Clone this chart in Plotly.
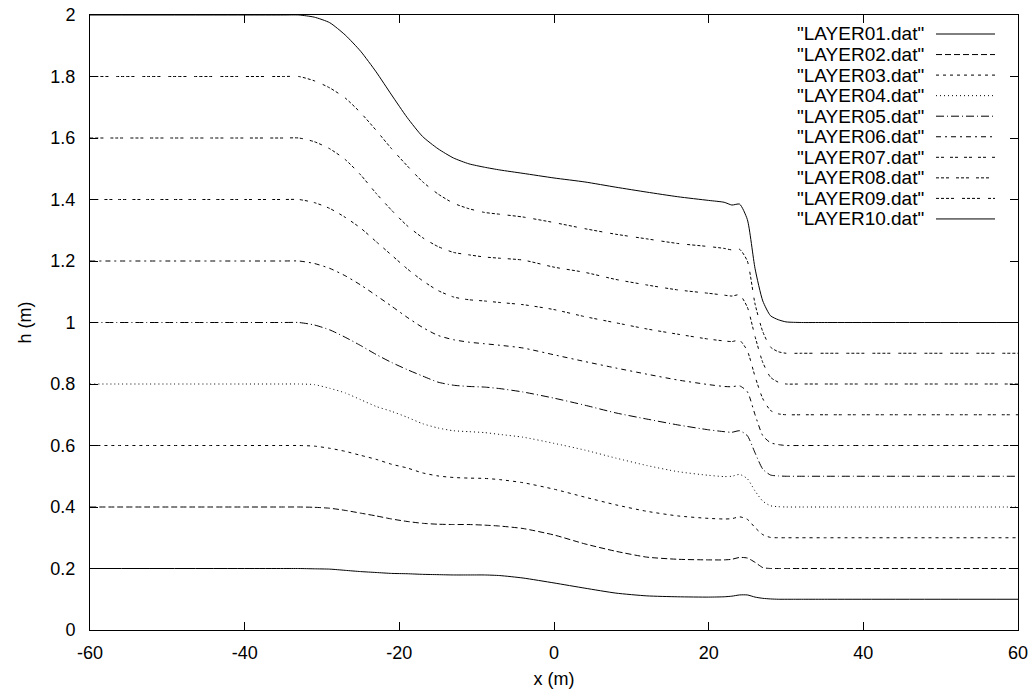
import plotly.graph_objects as go

# x positions (m) shared by all layers
x_m = [-60, -40, -35, -33, -31, -29, -27, -25, -23, -21, -19, -17, -15, -13, -11, -9, -7, -4,
       0, 4, 8, 12, 16, 20, 22, 23, 24, 25, 26, 27, 28, 29, 30, 32, 35, 60]

layer01 = [0.2, 0.2, 0.2, 0.20, 0.199, 0.198, 0.194, 0.190, 0.187, 0.184, 0.183, 0.181, 0.180, 0.179,
           0.179, 0.179, 0.177, 0.169, 0.153, 0.136, 0.120, 0.111, 0.108, 0.107, 0.108, 0.110,
           0.114, 0.114, 0.107, 0.103, 0.101, 0.10, 0.10, 0.1, 0.1, 0.1]
layer02 = [0.4, 0.4, 0.4, 0.40, 0.399, 0.396, 0.389, 0.380, 0.371, 0.361, 0.353, 0.347, 0.344, 0.343,
           0.343, 0.341, 0.338, 0.330, 0.309, 0.280, 0.256, 0.237, 0.230, 0.228, 0.228, 0.230,
           0.236, 0.234, 0.22, 0.203, 0.20, 0.20, 0.20, 0.2, 0.2, 0.2]
layer03 = [0.6, 0.6, 0.6, 0.60, 0.598, 0.591, 0.581, 0.568, 0.555, 0.539, 0.527, 0.511, 0.501, 0.496,
           0.494, 0.493, 0.489, 0.479, 0.458, 0.432, 0.407, 0.386, 0.371, 0.363, 0.361, 0.362,
           0.368, 0.360, 0.333, 0.310, 0.301, 0.30, 0.30, 0.3, 0.3, 0.3]
layer04 = [0.8, 0.8, 0.8, 0.80, 0.798, 0.786, 0.771, 0.749, 0.727, 0.711, 0.692, 0.671, 0.657, 0.648,
           0.645, 0.642, 0.636, 0.627, 0.607, 0.585, 0.559, 0.535, 0.515, 0.503, 0.499, 0.500,
           0.506, 0.492, 0.452, 0.419, 0.404, 0.401, 0.40, 0.4, 0.4, 0.4]
layer05 = [1.0, 1.0, 1.0, 1.0, 0.992, 0.976, 0.952, 0.925, 0.896, 0.870, 0.847, 0.826, 0.806, 0.796,
           0.792, 0.790, 0.785, 0.774, 0.754, 0.731, 0.706, 0.686, 0.667, 0.651, 0.645, 0.643,
           0.648, 0.632, 0.576, 0.523, 0.504, 0.501, 0.50, 0.5, 0.5, 0.5]
layer06 = [1.2, 1.2, 1.2, 1.20, 1.192, 1.176, 1.152, 1.122, 1.088, 1.053, 1.017, 0.984, 0.958, 0.944,
           0.936, 0.931, 0.926, 0.917, 0.895, 0.873, 0.852, 0.832, 0.813, 0.798, 0.792, 0.791,
           0.794, 0.775, 0.70, 0.632, 0.609, 0.603, 0.60, 0.6, 0.6, 0.6]
layer07 = [1.4, 1.4, 1.4, 1.40, 1.390, 1.371, 1.342, 1.307, 1.263, 1.219, 1.175, 1.136, 1.104, 1.083,
           1.074, 1.070, 1.065, 1.058, 1.042, 1.019, 0.999, 0.979, 0.962, 0.946, 0.940, 0.938,
           0.942, 0.908, 0.824, 0.752, 0.714, 0.703, 0.70, 0.7, 0.7, 0.7]
layer08 = [1.6, 1.6, 1.6, 1.60, 1.588, 1.565, 1.530, 1.48, 1.42, 1.365, 1.315, 1.276, 1.247, 1.228,
           1.22, 1.213, 1.209, 1.203, 1.18, 1.163, 1.14, 1.122, 1.106, 1.095, 1.089, 1.086,
           1.09, 1.05, 0.954, 0.87, 0.822, 0.806, 0.80, 0.8, 0.8, 0.8]
layer09 = [1.8, 1.8, 1.8, 1.80, 1.786, 1.763, 1.730, 1.682, 1.625, 1.565, 1.510, 1.458, 1.418, 1.388,
           1.370, 1.358, 1.352, 1.343, 1.325, 1.305, 1.287, 1.272, 1.257, 1.247, 1.241, 1.236,
           1.238, 1.20, 1.06, 0.97, 0.92, 0.905, 0.90, 0.9, 0.9, 0.9]
layer10 = [2.0, 2.0, 2.0, 2.0, 1.993, 1.975, 1.935, 1.882, 1.815, 1.740, 1.667, 1.605, 1.565, 1.535,
           1.516, 1.505, 1.496, 1.485, 1.470, 1.457, 1.440, 1.424, 1.409, 1.397, 1.391, 1.382,
           1.385, 1.335, 1.175, 1.07, 1.022, 1.009, 1.002, 1.0, 1.0, 1.0]

names = ['"LAYER01.dat"', '"LAYER02.dat"', '"LAYER03.dat"', '"LAYER04.dat"', '"LAYER05.dat"',
         '"LAYER06.dat"', '"LAYER07.dat"', '"LAYER08.dat"', '"LAYER09.dat"', '"LAYER10.dat"']
layers = [layer01, layer02, layer03, layer04, layer05, layer06, layer07, layer08, layer09, layer10]

x_ticks = [-60, -40, -20, 0, 20, 40, 60]
x_tick_text = ["-60", "-40", "-20", "0", "20", "40", "60"]
y_ticks = [0, 0.2, 0.4, 0.6, 0.8, 1.0, 1.2, 1.4, 1.6, 1.8, 2.0]
y_tick_text = ["0", "0.2", "0.4", "0.6", "0.8", "1", "1.2", "1.4", "1.6", "1.8", "2"]

# styles
dashes = ["solid", "6px,3px", "3px,4px", "1px,3px", "8px,3px,1px,3px", "5px,4px,2px,4px",
          "3px,2px,3px,6px", "3px,2px,3px,2px,3px,7px", "3px,2px,3px,2px,3px,2px,3px,8px", "solid"]
FONT = "Liberation Sans, Arial, Helvetica, sans-serif"
FS = 18

fig = go.Figure()
for name, ys, d in zip(names, layers, dashes):
    fig.add_trace(go.Scatter(x=x_m, y=ys, mode="lines", name=name,
                             line=dict(color="black", width=1, dash=d, shape="spline", smoothing=0.6),
                             showlegend=False))

# gnuplot-style key: text on the left, line sample on the right
L, R, T, B = 90, 1018, 15, 630
W, H = R - L, B - T
for i, (name, d) in enumerate(zip(names, dashes)):
    py = 34 + 20.55 * i
    yp = (B - py) / H
    fig.add_annotation(x=(926 - L) / W, y=yp, xref="paper", yref="paper", text=name,
                       showarrow=False, xanchor="right", yanchor="middle",
                       font=dict(family=FONT, size=FS + 1, color="black"))
    fig.add_shape(type="line", xref="paper", yref="paper",
                  x0=(936 - L) / W, x1=(995 - L) / W, y0=yp, y1=yp,
                  line=dict(color="black", width=1, dash=d))

axis_common = dict(showline=True, linecolor="black", linewidth=1, mirror="ticks",
                   ticks="inside", ticklen=8, tickcolor="black", tickwidth=1,
                   showgrid=False, zeroline=False, automargin=False,
                   tickfont=dict(family=FONT, size=FS, color="black"))

fig.update_xaxes(range=[-60, 60], tickvals=x_ticks, ticktext=x_tick_text,
                 ticklabelstandoff=6,
                 title=dict(text="x (m)", font=dict(family=FONT, size=FS, color="black"), standoff=10),
                 **axis_common)
fig.update_yaxes(range=[0, 2], tickvals=y_ticks, ticktext=y_tick_text,
                 ticklabelstandoff=10,
                 title=dict(text="h (m)", font=dict(family=FONT, size=FS, color="black"), standoff=14),
                 **axis_common)

fig.update_layout(width=1034, height=698, margin=dict(l=L, r=1034 - R, t=T, b=698 - B),
                  paper_bgcolor="white", plot_bgcolor="white",
                  font=dict(family=FONT, size=FS, color="black"))

fig.write_html("out.html")
